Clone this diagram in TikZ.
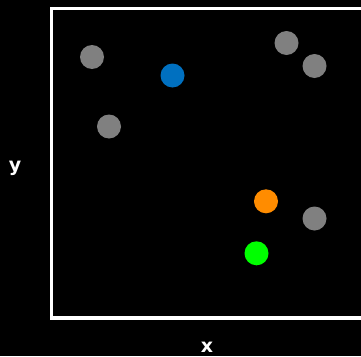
\documentclass[tikz,border=0pt]{standalone}
\usepackage{fontspec}
\setmainfont{DejaVu Sans}
\definecolor{dotgrey}{RGB}{128,128,128}
\definecolor{dotblue}{RGB}{0,112,192}
\definecolor{dotorange}{RGB}{255,140,0}
\definecolor{dotgreen}{RGB}{0,255,0}
\begin{document}
\begin{tikzpicture}[x=1pt,y=-1pt,
  dot/.style={circle,minimum size=24pt,inner sep=0pt,draw=none},
  axislabel/.style={text=white,font=\fontsize{19}{21}\selectfont\bfseries}]
\fill[black] (0,0) rectangle (361,356);
\useasboundingbox (0,0) rectangle (361,356);
\draw[white,line width=3.5pt] (51.5,8.5) rectangle (364,318);
\node[dot,fill=dotgrey] (g1) at (92,57) {};
\node[dot,fill=dotblue] (b) at (172.5,75.5) {};
\node[dot,fill=dotgrey] (g2) at (109,126.5) {};
\node[dot,fill=dotgrey] (g3) at (286.5,43) {};
\node[dot,fill=dotgrey] (g4) at (314.5,66) {};
\node[dot,fill=dotorange] (o) at (266,201.3) {};
\node[dot,fill=dotgrey] (g5) at (314.5,218.5) {};
\node[dot,fill=dotgreen] (gr) at (256.5,253.3) {};
\node[axislabel] (ylab) at (15,168) {y};
\node[axislabel] (xlab) at (207,347) {x};
\end{tikzpicture}
\end{document}
